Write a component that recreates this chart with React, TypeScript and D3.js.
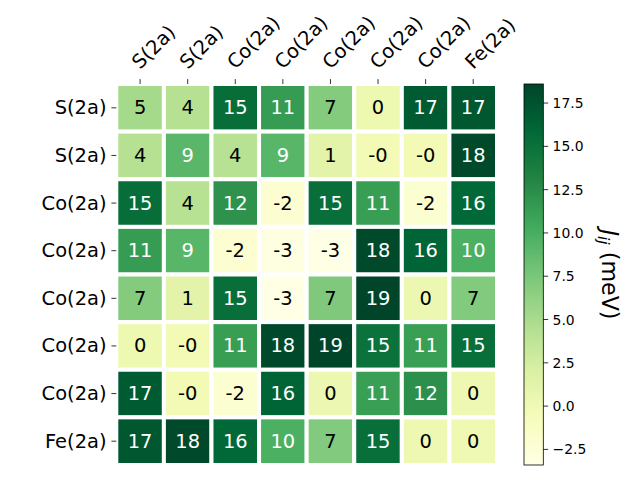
import React from "react";
import * as d3 from "d3";

const labels = ["S(2a)", "S(2a)", "Co(2a)", "Co(2a)", "Co(2a)", "Co(2a)", "Co(2a)", "Fe(2a)"];

const row0 = [5.2, 4.3, 15.3, 11.4, 7.0, 0.3, 16.9, 17.2];
const row1 = [4.3, 9.1, 4.2, 9.2, 1.2, -0.2, -0.3, 18.2];
const row2 = [15.3, 4.2, 12.1, -2.2, 15.2, 11.3, -2.1, 15.8];
const row3 = [11.4, 9.2, -2.2, -3.1, -3.4, 18.3, 16.1, 9.8];
const row4 = [7.0, 1.2, 15.2, -3.4, 7.2, 18.6, 0.4, 7.1];
const row5 = [0.3, -0.2, 11.3, 18.3, 18.6, 14.9, 11.2, 15.2];
const row6 = [16.9, -0.3, -2.1, 16.1, 0.4, 11.2, 12.3, 0.2];
const row7 = [17.2, 18.2, 15.8, 9.8, 7.1, 15.2, 0.2, 0.1];
const matrix = [row0, row1, row2, row3, row4, row5, row6, row7];

const cbarTicks = [-2.5, 0.0, 2.5, 5.0, 7.5, 10.0, 12.5, 15.0, 17.5];
const ylgn = ["#ffffe5", "#f7fcb9", "#d9f0a3", "#addd8e", "#78c679", "#41ab5d", "#238443", "#006837", "#004529"];

export default function App() {
  const all = matrix.flat();
  const vmin = d3.min(all) as number;
  const vmax = d3.max(all) as number;

  const left = 116.3, right = 497, top = 84, bottom = 465;
  const idx = d3.range(labels.length);
  const x = d3.scaleBand<number>().domain(idx).range([left, right]);
  const y = d3.scaleBand<number>().domain(idx).range([top, bottom]);

  const norm = d3.scaleLinear().domain([vmin, vmax]).range([0, 1]);
  const cmap = d3
    .scaleLinear<string>()
    .domain(d3.range(ylgn.length).map((i) => i / (ylgn.length - 1)))
    .range(ylgn)
    .interpolate(d3.interpolateRgb);
  const color = (v: number) => cmap(norm(v));

  const cbX0 = 524, cbX1 = 543.3;
  const cy = d3.scaleLinear().domain([vmin, vmax]).range([bottom, top]);
  const font = "DejaVu Sans";
  const fs = 19.44;
  const fmt = (v: number) => {
    const r = Math.round(v);
    return (v < 0 && r === 0 ? "-0" : String(r)).replace("-", "-");
  };

  const stops = d3.range(0, 1.0001, 0.05);

  return (
    <svg width={640} height={480} style={{ position: "absolute", left: 0, top: 0 }} fontFamily={font}>
      <rect width={640} height={480} fill="white" />
      <defs>
        <linearGradient id="cb" x1="0" y1="1" x2="0" y2="0">
          {stops.map((t) => (
            <stop key={t} offset={t} stopColor={cmap(t)} />
          ))}
        </linearGradient>
      </defs>
      {matrix.map((row, i) =>
        row.map((v, j) => (
          <g key={`${i}-${j}`}>
            <rect
              x={x(j)}
              y={y(i)}
              width={x.bandwidth()}
              height={y.bandwidth()}
              fill={color(v)}
              stroke="white"
              strokeWidth={4}
            />
            <text
              x={(x(j) as number) + x.bandwidth() / 2}
              y={(y(i) as number) + y.bandwidth() / 2}
              textAnchor="middle"
              dominantBaseline="central"
              fontSize={fs}
              fill={norm(v) > 0.5 ? "white" : "black"}
            >
              {fmt(v)}
            </text>
          </g>
        ))
      )}
      {labels.map((l, i) => {
        const cyy = (y(i) as number) + y.bandwidth() / 2;
        return (
          <g key={`y${i}`}>
            <line x1={left - 4.9} x2={left} y1={cyy} y2={cyy} stroke="black" strokeWidth={0.8} />
            <text x={left - 9.8} y={cyy} textAnchor="end" dominantBaseline="central" fontSize={fs}>
              {l}
            </text>
          </g>
        );
      })}
      {labels.map((l, j) => {
        const cx = (x(j) as number) + x.bandwidth() / 2;
        return (
          <g key={`x${j}`}>
            <line x1={cx} x2={cx} y1={top - 4.9} y2={top} stroke="black" strokeWidth={0.8} />
            <text transform={`translate(${cx},${top - 14}) rotate(-45)`} textAnchor="start" fontSize={fs}>
              {l}
            </text>
          </g>
        );
      })}
      <rect x={cbX0} y={top} width={cbX1 - cbX0} height={bottom - top} fill="url(#cb)" stroke="black" strokeWidth={0.8} />
      {cbarTicks.map((t) => (
        <g key={`c${t}`}>
          <line x1={cbX1} x2={cbX1 + 4.9} y1={cy(t)} y2={cy(t)} stroke="black" strokeWidth={0.8} />
          <text x={cbX1 + 9.3} y={cy(t)} dominantBaseline="central" fontSize={13.9}>
            {t < 0 ? "\u2212" + Math.abs(t).toFixed(1) : t.toFixed(1)}
          </text>
        </g>
      ))}
      <text
        transform={`translate(602,${(top + bottom) / 2}) rotate(90)`}
        textAnchor="middle"
        fontSize={22.2}
      >
        <tspan fontStyle="italic">J</tspan>
        <tspan fontStyle="italic" fontSize={15.5} dy={4}>ij</tspan>
        <tspan dy={-4}> (meV)</tspan>
      </text>
    </svg>
  );
}
